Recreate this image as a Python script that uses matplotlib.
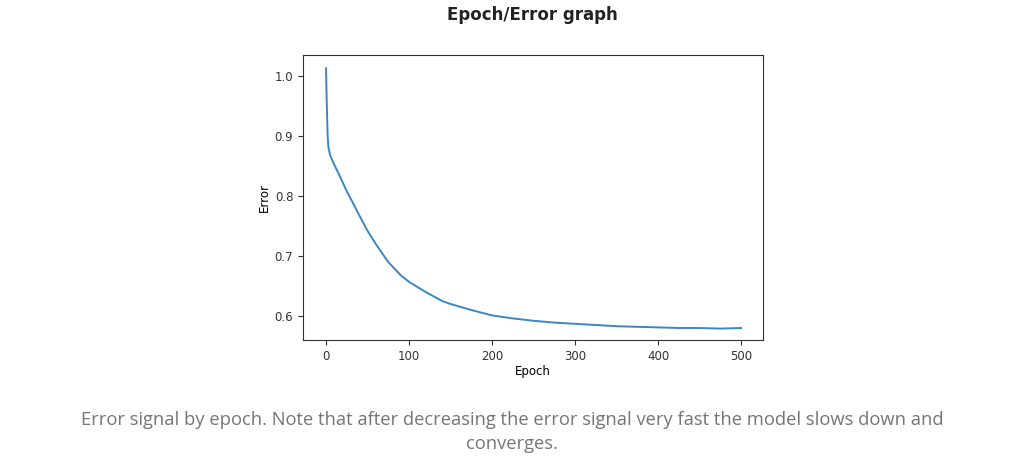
import matplotlib
matplotlib.use("Agg")
import matplotlib.pyplot as plt

# Values
epochs = [0, 1, 2, 3, 5, 8, 10, 15, 20, 25, 30, 40, 50, 60, 75, 90, 100, 120, 140,
          150, 175, 200, 225, 250, 275, 300, 325, 350, 375, 400, 425, 450, 475, 500]
errors = [1.013, 0.95, 0.90, 0.88, 0.868, 0.858, 0.852, 0.838, 0.823, 0.808, 0.795,
          0.768, 0.742, 0.72, 0.69, 0.668, 0.657, 0.640, 0.625, 0.620, 0.610, 0.601,
          0.596, 0.592, 0.589, 0.587, 0.585, 0.583, 0.582, 0.581, 0.580, 0.580, 0.579, 0.580]

title = "Epoch/Error graph"
caption = ("Error signal by epoch. Note that after decreasing the error signal very fast the model slows down and\n"
           "converges.")

fig = plt.figure(figsize=(10.24, 4.68), dpi=100)
fig.patch.set_facecolor("white")

# axes box in pixel terms: left 303, right 763, top 55, bottom 340
ax = fig.add_axes([303 / 1024, 1 - 340 / 468, 460 / 1024, 285 / 468])
ax.plot(epochs, errors, color="#3a87c4", linewidth=1.4)
ax.set_xlim(-27.7, 526.5)
ax.set_ylim(0.56, 1.035)
ax.set_xticks([0, 100, 200, 300, 400, 500])
ax.set_yticks([0.6, 0.7, 0.8, 0.9, 1.0])
ax.tick_params(labelsize=8.5, colors="#333333")
for s in ax.spines.values():
    s.set_color("#333333")
ax.set_xlabel("Epoch", fontsize=8.5, labelpad=2)
ax.set_ylabel("Error", fontsize=8.5, labelpad=3)

fig.text(0.52, 1 - 15 / 468, title, ha="center", va="center",
         fontsize=12, fontweight="bold", color="#222222", family="DejaVu Sans")
fig.text(0.5, 1 - 432 / 468, caption, ha="center", va="center",
         fontsize=13.2, color="#757575", linespacing=1.45, family="Open Sans")

plt.savefig("out.png", dpi=100, facecolor="white")
